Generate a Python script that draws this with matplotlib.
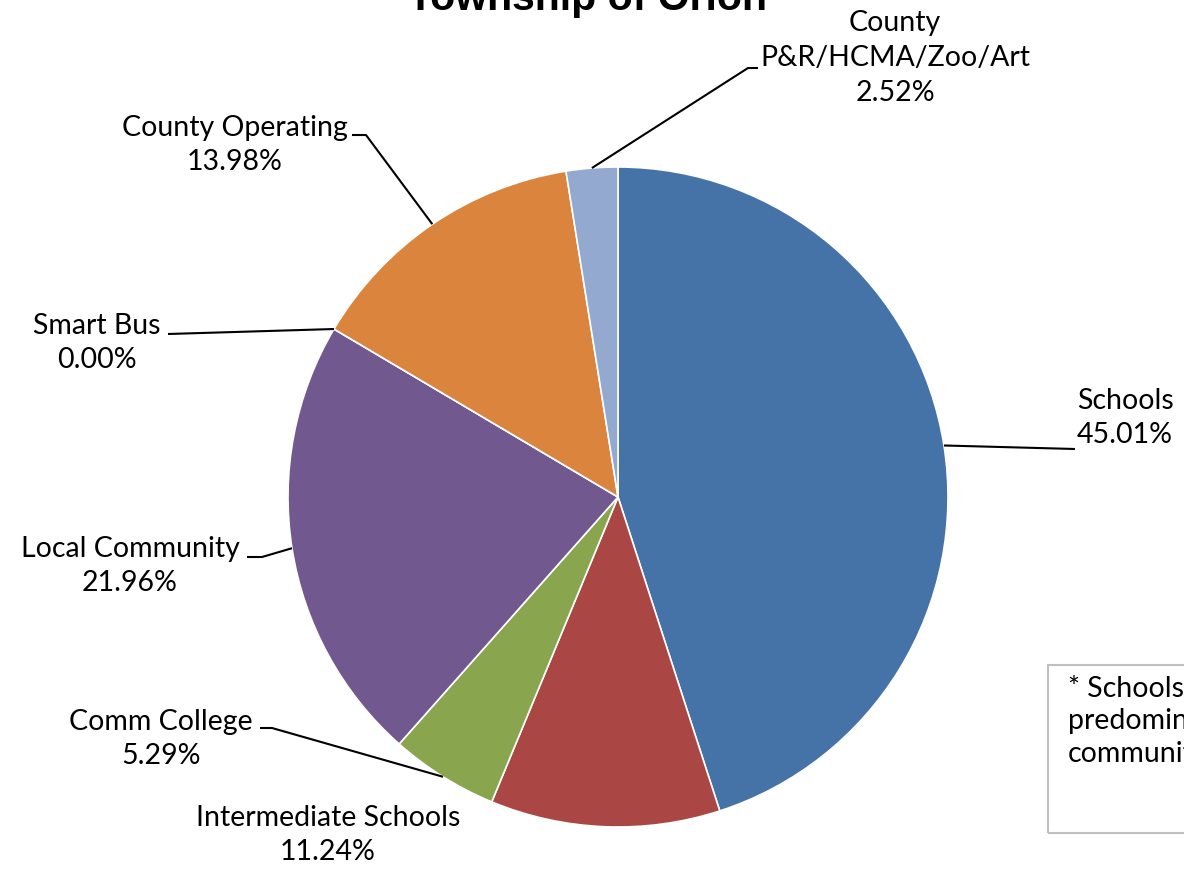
import numpy as np
import matplotlib
matplotlib.use("Agg")
import matplotlib.pyplot as plt
from matplotlib.patches import Rectangle

# data
categories = ["Schools", "Intermediate Schools", "Comm College", "Local Community",
              "Smart Bus", "County Operating", "County\nP&R/HCMA/Zoo/Art"]
shares = [45.01, 11.24, 5.29, 21.96, 0.00, 13.98, 2.52]
colors = ["#4673A7", "#AA4643", "#89A54E", "#71588F", "#4198AF", "#DB843D", "#93A9CF"]

W, H = 1184, 875
fig = plt.figure(figsize=(W / 100, H / 100), dpi=100)
ax = fig.add_axes([0, 0, 1, 1])

cx, cy, r = 618, H - 497, 330
wedges, _ = ax.pie(shares, colors=colors, startangle=90, counterclock=False,
                   center=(cx, cy), radius=r,
                   wedgeprops=dict(edgecolor="white", linewidth=1.2))
ax.set_xlim(0, W)
ax.set_ylim(0, H)
ax.set_aspect("equal")
ax.axis("off")

font = "Lato"
fs = 20.5
ls = 1.42

# label layout: text anchor (image px), alignment, elbow points (image px)
layout = {
    0: dict(xy=(1077, 418), ha="left", elbow=[(1075, 449)]),
    1: dict(xy=(328, 835), ha="center", elbow=None),
    2: dict(xy=(161, 739), ha="center", elbow=[(272, 728), (260, 728)]),
    3: dict(xy=(130, 566), ha="center", elbow=[(262, 557), (247, 557)]),
    4: dict(xy=(97, 343), ha="center", elbow=[(168, 334)]),
    5: dict(xy=(235, 145), ha="center", elbow=[(366, 135), (352, 135)]),
    6: dict(xy=(895, 58), ha="center", elbow=[(748, 68), (758, 68)]),
}

for i, (w, cat, val) in enumerate(zip(wedges, categories, shares)):
    lay = layout[i]
    tx, ty = lay["xy"]
    ax.text(tx, H - ty, f"{cat}\n{val:.2f}%", ha=lay["ha"], va="center",
            fontsize=fs, family=font, color="black", linespacing=ls)
    if lay["elbow"]:
        ang = np.deg2rad((w.theta1 + w.theta2) / 2)
        px = [cx + r * np.cos(ang)] + [p[0] for p in lay["elbow"]]
        py = [cy + r * np.sin(ang)] + [H - p[1] for p in lay["elbow"]]
        ax.plot(px, py, color="black", linewidth=1.5, solid_capstyle="butt")

fig.text(588 / W, 1 - 10 / H, "Township of Orion", ha="center", va="baseline",
         fontsize=29.5, fontweight="bold", family="Liberation Sans")

ax.add_patch(Rectangle((1048, H - 833), 300, 168, fill=False,
                       edgecolor="#BFBFBF", linewidth=1.5, clip_on=False))
ax.text(1068, H - 676, "* Schools reflects the\npredominant school district\ncommunity",
        ha="left", va="top", fontsize=fs, family=font, linespacing=1.3)

fig.savefig("out.png", dpi=100)
